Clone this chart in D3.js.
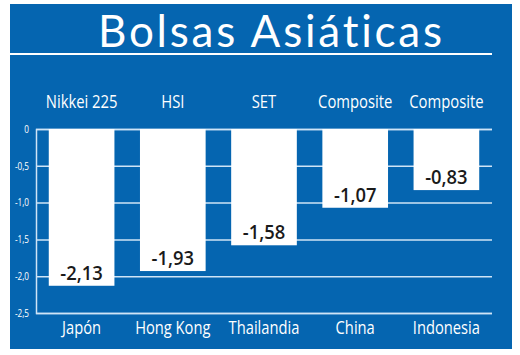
<!DOCTYPE html>
<html><head><meta charset="utf-8">
<script src="https://cdn.jsdelivr.net/npm/d3@7"></script>
<style>
html,body{margin:0;padding:0;background:#fff;}
svg{display:block;}
</style></head>
<body>
<svg id="chart" width="520" height="355"></svg>
<script>
const title = "Bolsas Asiáticas";
const countries = ["Japón", "Hong Kong", "Thailandia", "China", "Indonesia"];
const indices = ["Nikkei 225", "HSI", "SET", "Composite", "Composite"];
const values = [-2.13, -1.93, -1.58, -1.07, -0.83];
const tickValues = [0, -0.5, -1.0, -1.5, -2.0, -2.5];

const svg = d3.select("#chart");
const blue = "#0565b0";
const gridColor = "#cfe4f6";
const condensed = "'Open Sans', 'DejaVu Sans', sans-serif";
const locale = d3.formatLocale({decimal: ",", thousands: ".", grouping: [3], currency: ["", "€"], minus: "-"});

// panel
svg.append("rect").attr("x", 10).attr("y", 4).attr("width", 502).attr("height", 345).attr("fill", blue);

// title
svg.append("text").attr("x", 98).attr("y", 47).attr("text-anchor", "start")
  .attr("textLength", 344).attr("lengthAdjust", "spacing")
  .attr("fill", "#fff").style("font-family", "Lato, 'Open Sans', sans-serif")
  .style("font-variant-ligatures", "none").style("font-feature-settings", "'liga' 0, 'dlig' 0")
  .style("font-size", "44px").style("font-weight", 400).text(title);
svg.append("line").attr("x1", 10).attr("x2", 492).attr("y1", 54).attr("y2", 54)
  .attr("stroke", "#fff").attr("stroke-width", 2);

const x = d3.scaleBand().domain(countries).range([36, 492]).paddingInner(0.28).paddingOuter(0.14);
const y = d3.scaleLinear().domain([0, -2.5]).range([129, 313]);

// grid
const fmt = v => v === 0 ? "0" : locale.format(".1f")(v);
const yAxis = d3.axisLeft(y).tickValues(tickValues).tickSize(-(492 - 36)).tickPadding(6).tickFormat(fmt);
const gy = svg.append("g").attr("transform", "translate(36,0)").call(yAxis);
gy.select(".domain").attr("stroke", gridColor).attr("stroke-width", 1.5);
gy.selectAll(".tick line").attr("stroke", gridColor).attr("stroke-width", 1.5);
gy.selectAll(".tick text").attr("fill", "#fff").style("font-family", condensed)
  .style("font-size", "10px").attr("transform", "scale(0.82,1)").attr("x", -7 / 0.82);

// bars
svg.append("g").selectAll("rect").data(values).join("rect")
  .attr("x", (d, i) => x(countries[i]))
  .attr("width", x.bandwidth())
  .attr("y", y(0))
  .attr("height", d => y(d) - y(0))
  .attr("fill", "#fff");

// value labels
svg.append("g").selectAll("text").data(values).join("text")
  .attr("transform", (d, i) => `translate(${x(countries[i]) + x.bandwidth()/2},${y(d) - 6}) scale(0.92,1)`)
  .attr("text-anchor", "middle").attr("fill", "#1a1a1a")
  .style("font-family", "'Open Sans', sans-serif").style("font-size", "20px").style("font-weight", 600)
  .text(d => locale.format(".2f")(d));

// index labels (top)
svg.append("g").selectAll("text").data(indices).join("text")
  .attr("transform", (d, i) => `translate(${x(countries[i]) + x.bandwidth()/2},108) scale(0.78,1)`)
  .attr("text-anchor", "middle").attr("fill", "#fff")
  .style("font-family", condensed).style("font-size", "19px")
  .text(d => d);

// country labels (bottom)
svg.append("g").selectAll("text").data(countries).join("text")
  .attr("transform", (d, i) => `translate(${x(d) + x.bandwidth()/2},334) scale(0.84,1)`)
  .attr("text-anchor", "middle").attr("fill", "#fff")
  .style("font-family", condensed).style("font-size", "17.5px")
  .text(d => d);
</script>
</body></html>
